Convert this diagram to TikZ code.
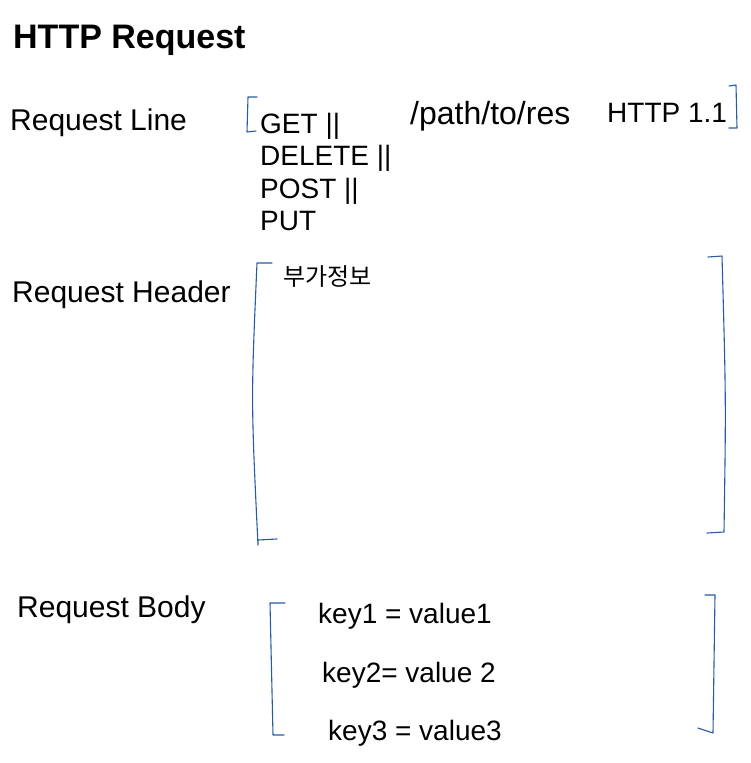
\documentclass[tikz,border=0pt]{standalone}
\usepackage{xcolor}
\usepackage{fontspec}
\setmainfont{Liberation Sans}
\newfontfamily\krfont{Noto Sans CJK KR}
\usepackage{tikz}
\usetikzlibrary{positioning}
\definecolor{penblue}{RGB}{40,90,168}

\begin{document}
\begin{tikzpicture}[ x = 1pt, y = -1pt, node distance = 0pt ]
        \tikzset{title/.style={anchor=base west, inner sep=0pt, font=\fontsize{34}{40}\selectfont\bfseries}}
        \tikzset{label/.style={anchor=base west, inner sep=0pt, font=\fontsize{30}{36}\selectfont}}
        \tikzset{method/.style={anchor=north west, inner sep=3pt, text height=21pt, text depth=5pt, font=\fontsize{28}{32}\selectfont}}
        \tikzset{entry/.style={anchor=base west, inner sep=0pt, font=\fontsize{28}{34}\selectfont}}
        \tikzset{bracket/.style={draw=penblue, line width=1.1pt, line cap=round, line join=round}}   % blue pen

        \useasboundingbox (0,0) rectangle (751,763);

        \node[title] (T) at (13,48) {HTTP Request};

        % request line
        \node[label] (RL) at (10,130) {Request Line};
        \node[method] (GET) at (257,109) {GET ||};
        \node[method, below=of GET.south west, anchor=north west] (DEL) {DELETE ||};
        \node[method, below=of DEL.south west, anchor=north west] (POST) {POST ||};
        \node[method, below=of POST.south west, anchor=north west] (PUT) {PUT};
        \node[label, font=\fontsize{32}{38}\selectfont] (P) at (410,124) {/path/to/res};
        \node[label, font=\fontsize{28}{32}\selectfont] (V) at (607,122) {HTTP 1.1};
        \draw[bracket] (257,97) -- (248,97) -- (247,132) -- (256,131);
        \draw[bracket] (729,86) -- (736,85) -- (737,128) -- (729,128);

        % request header
        \node[label] (RH) at (12,302) {Request Header};
        \node[anchor=base west, inner sep=0pt, font=\krfont\fontsize{24}{28}\selectfont] (H) at (283,285) {부가정보};
        \draw[bracket] (272,263) -- (257,263) .. controls (251,400) .. (258,545) -- (258,540) -- (277,539);
        \draw[bracket] (708,257) -- (722,256) .. controls (726,400) .. (724,532) -- (707,533);

        % request body
        \node[label] (RB) at (17,617) {Request Body};
        \node[entry] (K1) at (318,623) {key1 = value1};
        \node[entry] (K2) at (322,682) {key2= value 2};
        \node[entry] (K3) at (328,740) {key3 = value3};
        \draw[bracket] (285,603) -- (270,603) -- (273,735) -- (284,735);
        \draw[bracket] (705,595) -- (715,595) -- (713,733) -- (698,728);

      \end{tikzpicture}
\end{document}
